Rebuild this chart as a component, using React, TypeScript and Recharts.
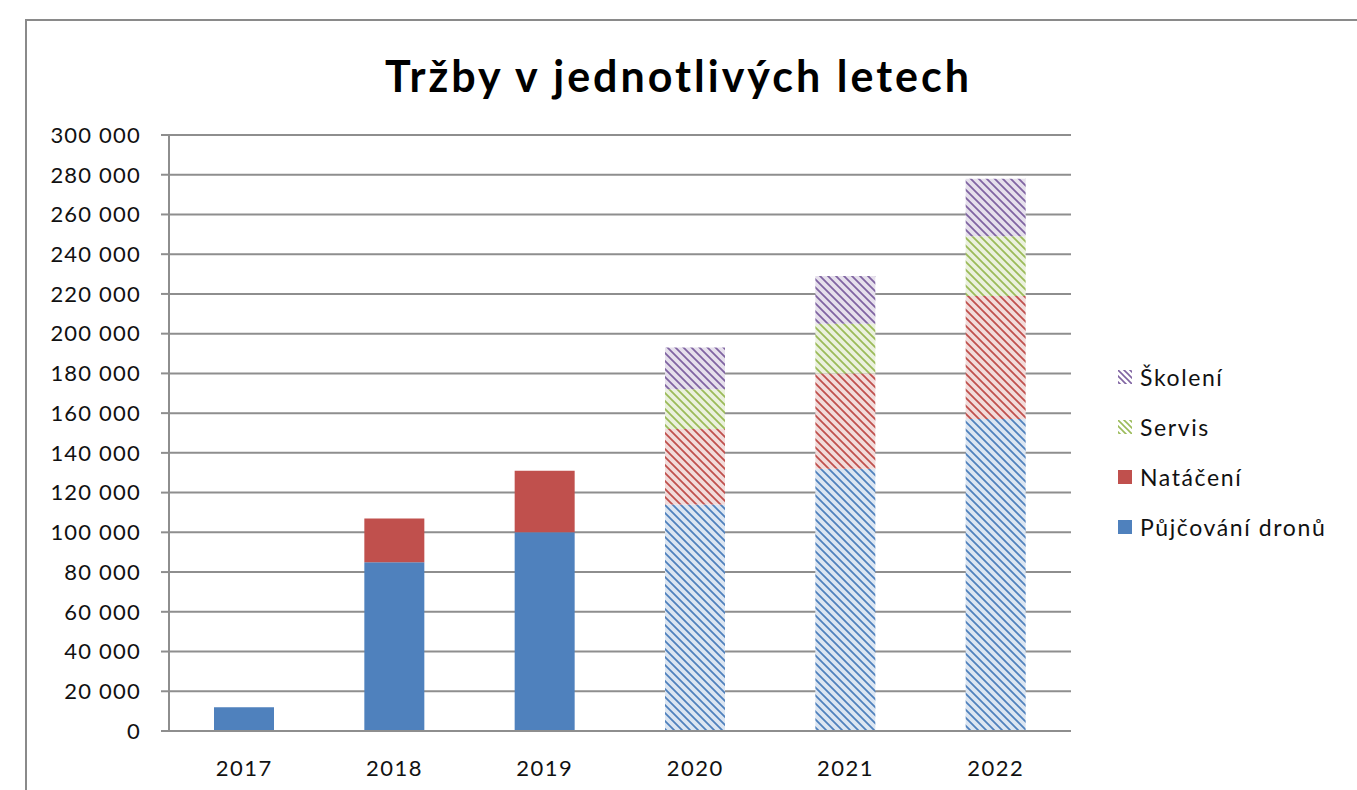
import React from 'react';
import { BarChart, Bar, XAxis, YAxis, CartesianGrid, Legend, Cell } from 'recharts';

const years = ['2017', '2018', '2019', '2020', '2021', '2022'];
const pujcovani = [12000, 85000, 100000, 114000, 132000, 157000];
const nataceni = [null, 22000, 31000, 38000, 48000, 62000];
const servis = [null, null, null, 20000, 25000, 30000];
const skoleni = [null, null, null, 21000, 24000, 29000];
const yTicks = [0, 20000, 40000, 60000, 80000, 100000, 120000, 140000, 160000, 180000, 200000, 220000, 240000, 260000, 280000, 300000];
const boundaryTicks = [0, 1, 2, 3, 4, 5, 6];
const hatchedYears = ['2020', '2021', '2022'];
const title = 'Tržby v jednotlivých letech';

const series = [
  { key: 'pujcovani', name: 'Půjčování dronů', color: '#4F81BD', tint: '#DCE6F2', legendHatched: false },
  { key: 'nataceni', name: 'Natáčení', color: '#C0504D', tint: '#F2DCDB', legendHatched: false },
  { key: 'servis', name: 'Servis', color: '#9BBB59', tint: '#EBF1DE', legendHatched: true },
  { key: 'skoleni', name: 'Školení', color: '#8064A2', tint: '#E6E0EC', legendHatched: true },
];

const data = years.map((year, i) => ({
  year,
  pujcovani: pujcovani[i],
  nataceni: nataceni[i],
  servis: servis[i],
  skoleni: skoleni[i],
}));

const fmt = (v: number) => String(v).replace(/\B(?=(\d{3})+(?!\d))/g, ' ');

const GRID = '#8E8E8E';
const FONT = 'Lato, "Open Sans", sans-serif';

const LegendContent = () => (
  <div style={{ fontFamily: FONT }}>
    {[...series].reverse().map((s) => (
      <div key={s.key} style={{ display: 'flex', alignItems: 'center', height: 50 }}>
        <svg width={16} height={16} style={{ marginRight: 7 }}>
          <rect x={1} y={1} width={14} height={14} fill={s.legendHatched ? `url(#legend-${s.key})` : s.color} />
        </svg>
        <span style={{ fontSize: 23, letterSpacing: 1.6, color: '#111' }}>{s.name}</span>
      </div>
    ))}
  </div>
);

export default function App() {
  return (
    <div style={{ position: 'absolute', left: 0, top: 0, width: 1357, height: 790, overflow: 'hidden', background: '#fff' }}>
      <svg width={0} height={0} style={{ position: 'absolute' }}>
        <defs>
          {series.map((s) => (
            <pattern key={s.key} id={`hatch-${s.key}`} patternUnits="userSpaceOnUse" width={8} height={8}>
              <rect width={8} height={8} fill={s.tint} />
              <path d="M0,0 L8,8 M-2,6 L2,10 M6,-2 L10,2" stroke={s.color} strokeWidth={1.8} />
            </pattern>
          ))}
          {series.map((s) => (
            <pattern key={`l-${s.key}`} id={`legend-${s.key}`} patternUnits="userSpaceOnUse" width={6} height={6}>
              <rect width={6} height={6} fill="#fff" />
              <path d="M0,0 L6,6 M-2,4 L2,8 M4,-2 L8,2" stroke={s.color} strokeWidth={1.6} />
            </pattern>
          ))}
        </defs>
      </svg>
      <div style={{ position: 'absolute', left: 25, top: 19, width: 1400, height: 900, borderLeft: '2px solid #8A8A8A', borderTop: '2px solid #8A8A8A' }} />
      <div style={{ position: 'absolute', left: 0, top: 54, width: 1357, textAlign: 'center', fontFamily: FONT, fontWeight: 700, fontSize: 43, lineHeight: 1, letterSpacing: 3, color: '#000' }}>
        {title}
      </div>
      <div style={{ position: 'absolute', left: 0, top: 0 }}>
        <BarChart width={1357} height={790} data={data} margin={{ top: 135, right: 286, left: 0, bottom: 0 }} barSize={60}>
          <CartesianGrid vertical={false} stroke={GRID} strokeWidth={2} />
          <XAxis
            xAxisId="b_cat"
            dataKey="year"
            axisLine={false}
            tickLine={false}
            tickSize={0}
            tickMargin={19}
            height={49}
            interval={0}
            tick={{ fill: '#111', fontSize: 22, fontFamily: FONT, letterSpacing: 1.5 }}
          />
          <XAxis
            xAxisId="a_ticks"
            type="number"
            domain={[0, 6]}
            ticks={boundaryTicks}
            allowDataOverflow
            tick={false}
            tickSize={8}
            tickLine={{ stroke: GRID, strokeWidth: 2 }}
            axisLine={{ stroke: GRID, strokeWidth: 2 }}
            height={10}
          />
          <YAxis
            domain={[0, 300000]}
            ticks={yTicks}
            interval={0}
            allowDataOverflow
            tickFormatter={fmt}
            width={169}
            tickSize={8}
            tickMargin={20}
            axisLine={{ stroke: GRID, strokeWidth: 2 }}
            tickLine={{ stroke: GRID, strokeWidth: 2 }}
            tick={{ fill: '#111', fontSize: 22, fontFamily: FONT, letterSpacing: 1.2 }}
          />
          <Legend
            layout="vertical"
            align="center"
            verticalAlign="middle"
            content={<LegendContent />}
            wrapperStyle={{ position: 'absolute', left: 1117, top: 352, width: 240, height: 210 }}
          />
          {series.map((s) => (
            <Bar key={s.key} dataKey={s.key} name={s.name} stackId="a" xAxisId="b_cat" fill={s.color} isAnimationActive={false}>
              {data.map((d) => (
                <Cell key={d.year} fill={hatchedYears.includes(d.year) ? `url(#hatch-${s.key})` : s.color} />
              ))}
            </Bar>
          ))}
        </BarChart>
      </div>
    </div>
  );
}
